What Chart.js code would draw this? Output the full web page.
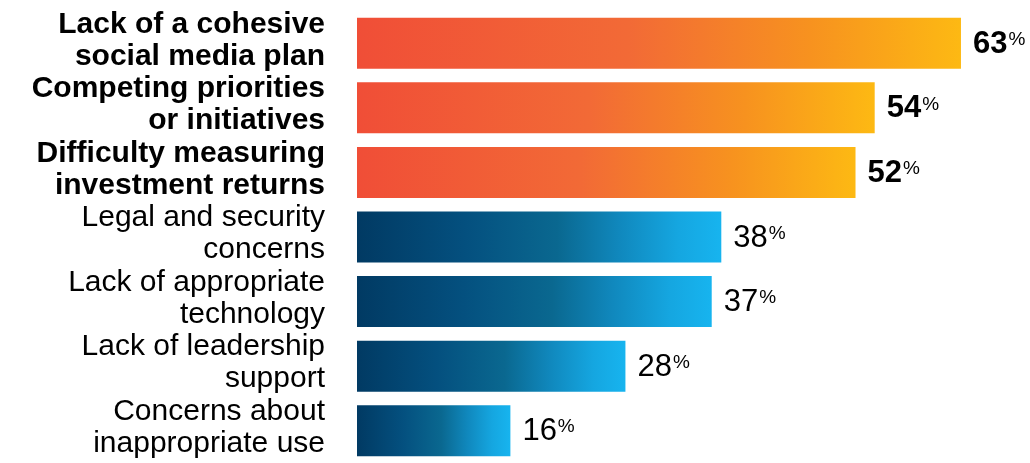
<!DOCTYPE html>
<html>
<head>
<meta charset="utf-8">
<script src="https://cdn.jsdelivr.net/npm/chart.js@4"></script>
<style>
  html, body { margin: 0; padding: 0; background: #fff; }
  #wrap { width: 1030px; height: 463px; }
</style>
</head>
<body>
<div id="wrap"><canvas id="myChart" width="1030" height="463"></canvas></div>
<script>
const categories = [
  ['Lack of a cohesive', 'social media plan'],
  ['Competing priorities', 'or initiatives'],
  ['Difficulty measuring', 'investment returns'],
  ['Legal and security', 'concerns'],
  ['Lack of appropriate', 'technology'],
  ['Lack of leadership', 'support'],
  ['Concerns about', 'inappropriate use']
];
const values = [63, 54, 52, 38, 37, 28, 16];
const highlighted = [true, true, true, false, false, false, false];

const orangeStops = [[0, '#f04e37'], [0.45, '#f26a36'], [0.75, '#f7921f'], [1, '#fdb913']];
const blueStops = [[0, '#013a63'], [0.3, '#04507f'], [0.55, '#0a6890'], [0.72, '#1088bd'], [0.88, '#15a6e0'], [1, '#17b4ef']];

function barGradient(ctx) {
  const chart = ctx.chart;
  const x = chart.scales.x;
  if (!x || !chart.chartArea) return '#888';
  const x0 = x.getPixelForValue(0);
  const x1 = x.getPixelForValue(values[ctx.dataIndex]);
  const g = chart.ctx.createLinearGradient(x0, 0, x1, 0);
  const stops = highlighted[ctx.dataIndex] ? orangeStops : blueStops;
  stops.forEach(s => g.addColorStop(s[0], s[1]));
  return g;
}

const valueLabels = {
  id: 'valueLabels',
  afterDatasetsDraw(chart) {
    const c = chart.ctx;
    const meta = chart.getDatasetMeta(0);
    meta.data.forEach((bar, i) => {
      const weight = highlighted[i] ? 'bold' : 'normal';
      const txt = String(values[i]);
      c.save();
      c.fillStyle = '#000';
      c.textBaseline = 'middle';
      c.textAlign = 'left';
      c.font = weight + ' 31px "Liberation Sans", Arial, sans-serif';
      const tx = bar.x + 12;
      c.fillText(txt, tx, bar.y + 1);
      const w = c.measureText(txt).width;
      c.font = 'normal 19px "Liberation Sans", Arial, sans-serif';
      c.textBaseline = 'top';
      c.fillText('%', tx + w + 1, bar.y - 13);
      c.restore();
    });
  }
};

const data = {
  labels: categories,
  datasets: [{
    data: values,
    backgroundColor: barGradient,
    borderWidth: 0,
    barPercentage: 0.79,
    categoryPercentage: 1
  }]
};

const config = {
  type: 'bar',
  data: data,
  options: {
    indexAxis: 'y',
    responsive: false,
    animation: false,
    layout: { padding: { top: 11, right: 0, bottom: 0, left: 0 } },
    plugins: {
      legend: { display: false },
      tooltip: { enabled: false }
    },
    scales: {
      x: {
        display: false,
        min: 0,
        max: 70.2
      },
      y: {
        afterFit(scale) {
          scale.width = 357;
          scale.paddingTop = 0;
          scale.paddingBottom = 0;
        },
        grid: { display: false, drawTicks: false },
        border: { display: false },
        ticks: {
          autoSkip: false,
          padding: 32,
          labelOffset: -3,
          color: '#000',
          font: (ctx) => ({
            family: '"Liberation Sans", Arial, sans-serif',
            size: 30,
            weight: highlighted[ctx.index] ? 'bold' : 'normal',
            lineHeight: 1.07
          })
        }
      }
    }
  },
  plugins: [valueLabels]
};

let myChart = new Chart(document.getElementById('myChart'), config);
</script>
</body>
</html>
